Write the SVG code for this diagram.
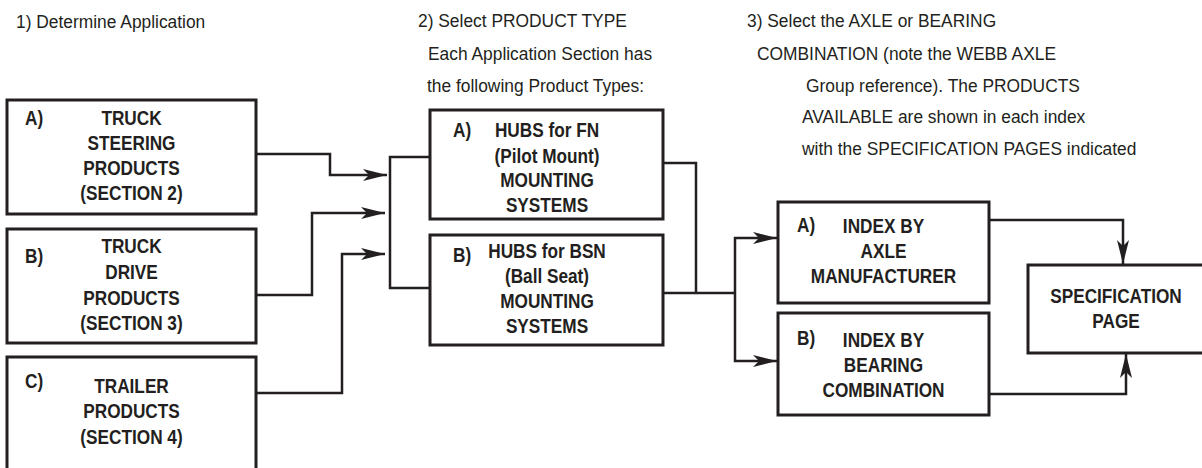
<svg xmlns="http://www.w3.org/2000/svg" width="1202" height="468" viewBox="0 0 1202 468">
<style>
.box{fill:#fff;stroke:#231f20;stroke-width:3}
.con{fill:none;stroke:#231f20;stroke-width:2.5}
.h{font-family:"Liberation Sans",Arial,sans-serif;font-size:18.5px;fill:#231f20}
.b{font-family:"Liberation Sans",Arial,sans-serif;font-weight:bold;font-size:21px;fill:#231f20;text-anchor:middle}
.l{font-family:"Liberation Sans",Arial,sans-serif;font-weight:bold;font-size:21px;fill:#231f20}
</style>
<defs>
<marker id="arr" markerUnits="userSpaceOnUse" viewBox="0 0 24 12" markerWidth="24" markerHeight="12" refX="24" refY="6" orient="auto">
<path d="M0,0 L24,6 L0,12 L6,6 z" fill="#231f20"/>
</marker>
</defs>
<rect width="1202" height="468" fill="#fff"/>
<g id="headers">
<text class="h" transform="translate(16,28) scale(0.94,1)">1) Determine Application</text>
<text class="h" transform="translate(418,27) scale(0.94,1)">2)  Select PRODUCT TYPE</text>
<text class="h" transform="translate(428,60) scale(0.94,1)">Each Application Section has</text>
<text class="h" transform="translate(427,92) scale(0.94,1)">the following Product Types:</text>
<text class="h" transform="translate(747,27) scale(0.94,1)">3)  Select the AXLE or BEARING</text>
<text class="h" transform="translate(757,60) scale(0.94,1)">COMBINATION (note the WEBB AXLE</text>
<text class="h" transform="translate(806,92) scale(0.94,1)">Group reference). The PRODUCTS</text>
<text class="h" transform="translate(802,123) scale(0.94,1)">AVAILABLE are shown in each index</text>
<text class="h" transform="translate(802,155) scale(0.94,1)">with the SPECIFICATION PAGES indicated</text>
</g>
<g id="connectors">
<path class="con" d="M256,154 H330 V175 H387" marker-end="url(#arr)"/>
<path class="con" d="M256,295 H312 V213 H385" marker-end="url(#arr)"/>
<path class="con" d="M256,393 H342 V254 H385" marker-end="url(#arr)"/>
<path class="con" d="M430,157 H390 V288 H430"/>
<path class="con" d="M663,163 H696 V293"/>
<path class="con" d="M663,293 H735"/>
<path class="con" d="M735,293 V238 H777" marker-end="url(#arr)"/>
<path class="con" d="M735,293 V361 H777" marker-end="url(#arr)"/>
<path class="con" d="M989,220 H1123 V264" marker-end="url(#arr)"/>
<path class="con" d="M989,394 H1126 V354" marker-end="url(#arr)"/>
</g>
<g id="truck-steering">
<rect class="box" x="7" y="100" width="249" height="114"/>
<text class="l" transform="translate(25,125) scale(0.82,1)">A)</text>
<text class="b" transform="translate(131.5,125) scale(0.82,1)">TRUCK</text>
<text class="b" transform="translate(131.5,150) scale(0.82,1)">STEERING</text>
<text class="b" transform="translate(131.5,175) scale(0.82,1)">PRODUCTS</text>
<text class="b" transform="translate(131.5,200) scale(0.82,1)">(SECTION 2)</text>
</g>
<g id="truck-drive">
<rect class="box" x="7" y="229" width="249" height="114"/>
<text class="l" transform="translate(25,263) scale(0.82,1)">B)</text>
<text class="b" transform="translate(131.5,253) scale(0.82,1)">TRUCK</text>
<text class="b" transform="translate(131.5,279) scale(0.82,1)">DRIVE</text>
<text class="b" transform="translate(131.5,305) scale(0.82,1)">PRODUCTS</text>
<text class="b" transform="translate(131.5,330) scale(0.82,1)">(SECTION 3)</text>
</g>
<g id="trailer">
<rect class="box" x="7" y="357" width="249" height="130"/>
<text class="l" transform="translate(25,388) scale(0.82,1)">C)</text>
<text class="b" transform="translate(131.5,393) scale(0.82,1)">TRAILER</text>
<text class="b" transform="translate(131.5,418) scale(0.82,1)">PRODUCTS</text>
<text class="b" transform="translate(131.5,444) scale(0.82,1)">(SECTION 4)</text>
</g>
<g id="hubs-fn">
<rect class="box" x="430" y="110" width="233" height="109"/>
<text class="l" transform="translate(453,137) scale(0.82,1)">A)</text>
<text class="b" transform="translate(547,137) scale(0.82,1)">HUBS for FN</text>
<text class="b" transform="translate(547,163) scale(0.82,1)">(Pilot Mount)</text>
<text class="b" transform="translate(547,187) scale(0.82,1)">MOUNTING</text>
<text class="b" transform="translate(547,212) scale(0.82,1)">SYSTEMS</text>
</g>
<g id="hubs-bsn">
<rect class="box" x="430" y="235" width="233" height="110"/>
<text class="l" transform="translate(453,262) scale(0.82,1)">B)</text>
<text class="b" transform="translate(547,258) scale(0.82,1)">HUBS for BSN</text>
<text class="b" transform="translate(547,283) scale(0.82,1)">(Ball Seat)</text>
<text class="b" transform="translate(547,308) scale(0.82,1)">MOUNTING</text>
<text class="b" transform="translate(547,333) scale(0.82,1)">SYSTEMS</text>
</g>
<g id="index-axle">
<rect class="box" x="778" y="202" width="211" height="101"/>
<text class="l" transform="translate(797,232) scale(0.82,1)">A)</text>
<text class="b" transform="translate(883.5,233) scale(0.82,1)">INDEX BY</text>
<text class="b" transform="translate(883.5,258) scale(0.82,1)">AXLE</text>
<text class="b" transform="translate(883.5,283) scale(0.82,1)">MANUFACTURER</text>
</g>
<g id="index-bearing">
<rect class="box" x="778" y="313" width="211" height="102"/>
<text class="l" transform="translate(797,345) scale(0.82,1)">B)</text>
<text class="b" transform="translate(883.5,347) scale(0.82,1)">INDEX BY</text>
<text class="b" transform="translate(883.5,372) scale(0.82,1)">BEARING</text>
<text class="b" transform="translate(883.5,397) scale(0.82,1)">COMBINATION</text>
</g>
<g id="spec-page">
<rect class="box" x="1028" y="265" width="185" height="88"/>
<text class="b" transform="translate(1116,303) scale(0.82,1)">SPECIFICATION</text>
<text class="b" transform="translate(1116,328) scale(0.82,1)">PAGE</text>
</g>
</svg>
